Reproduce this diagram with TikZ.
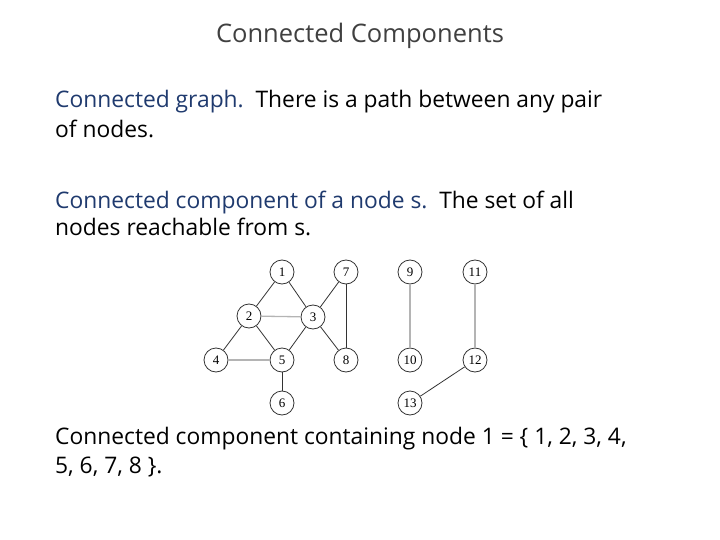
\documentclass[tikz,border=0pt]{standalone}
\usepackage{fontspec}
\setmainfont{Open Sans}
\newfontfamily\numfont{Liberation Serif}
\definecolor{titlegray}{HTML}{404040}
\definecolor{navy}{HTML}{1F3A6E}
\definecolor{edgedark}{HTML}{333333}
\definecolor{edgelight}{HTML}{B4B4B4}
\begin{document}
\begin{tikzpicture}[x=1pt,y=-1pt,
  vert/.style={circle,draw=edgedark,line width=0.8pt,minimum size=24pt,inner sep=0pt,font=\numfont\fontsize{13}{13}\selectfont},
  darkedge/.style={draw=edgedark,line width=0.8pt},
  lightedge/.style={draw=edgelight,line width=1.3pt},
  body/.style={anchor=base west,inner sep=0pt,font=\fontsize{22.8}{22.8}\selectfont},
]
\useasboundingbox (0,0) rectangle (720,540);
\node[anchor=base,inner sep=0pt,text=titlegray,font=\fontsize{25.5}{25.5}\selectfont] (title) at (360,43) {Connected Components};
\node[body] (l1) at (55,108) {\textcolor{navy}{Connected graph.}\ \ There is a path between any pair};
\node[body] (l2) at (55,138) {of nodes.};
\node[body] (l3) at (55,208) {\textcolor{navy}{Connected component of a node s.}\ \ The set of all};
\node[body] (l4) at (55,236) {nodes reachable from s.};
\node[body] (l5) at (55,444) {Connected component containing node 1 = \{ 1, 2, 3, 4,};
\node[body] (l6) at (55,473) {5, 6, 7, 8 \}.};
\node[vert] (n1) at (282,272) {1};
\node[vert] (n2) at (249,316) {2};
\node[vert] (n3) at (313,317) {3};
\node[vert] (n7) at (346,272) {7};
\node[vert] (n4) at (216,360) {4};
\node[vert] (n5) at (282,360) {5};
\node[vert] (n8) at (346,360) {8};
\node[vert] (n6) at (282,403) {6};
\node[vert] (n9) at (410,272) {9};
\node[vert] (n10) at (410,360) {10};
\node[vert] (n11) at (475,272) {11};
\node[vert] (n12) at (475,360) {12};
\node[vert] (n13) at (410,403) {13};
\draw[darkedge] (n1) -- (n2);
\draw[darkedge] (n1) -- (n3);
\draw[lightedge] (n2) -- (n3);
\draw[darkedge] (n2) -- (n4);
\draw[darkedge] (n2) -- (n5);
\draw[darkedge] (n3) -- (n5);
\draw[darkedge] (n3) -- (n7);
\draw[darkedge] (n3) -- (n8);
\draw[darkedge] (n7) -- (n8);
\draw[lightedge] (n4) -- (n5);
\draw[darkedge] (n5) -- (n6);
\draw[lightedge] (n9) -- (n10);
\draw[lightedge] (n11) -- (n12);
\draw[darkedge] (n12) -- (n13);
\end{tikzpicture}
\end{document}
